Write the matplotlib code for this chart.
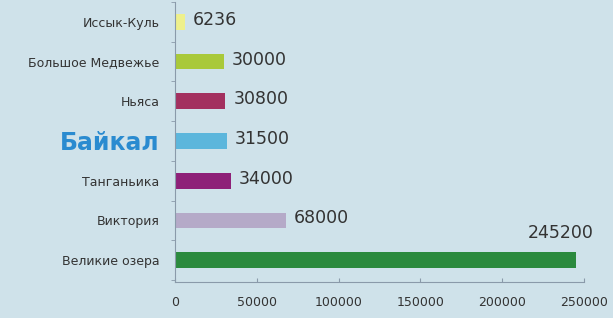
import matplotlib
matplotlib.use("Agg")
import matplotlib.pyplot as plt
from matplotlib.ticker import FixedLocator

lakes = ["Великие озера", "Виктория", "Танганьика", "Байкал", "Ньяса", "Большое Медвежье", "Иссык-Куль"]
values = [245200, 68000, 34000, 31500, 30800, 30000, 6236]
colors = ["#2b8a3e", "#b5aac8", "#8e2078", "#5cb6dc", "#a3305f", "#a9c93a", "#eef08c"]
xticks = [0, 50000, 100000, 150000, 200000, 250000]

bg = "#cfe2ea"
fig = plt.figure(figsize=(6.13, 3.18), dpi=100, facecolor=bg)
ax = fig.add_axes([0.2855, 0.113, 0.667, 0.881], facecolor=bg)

y = list(range(len(lakes)))
ax.barh(y, values, height=0.4, color=colors)
ax.set_xlim(0, 250000)
ax.set_ylim(-0.55, len(lakes) - 0.5)

for i, v in enumerate(values):
    if v == max(values):
        ax.annotate(str(v), (v, i), xytext=(-15, 18), textcoords="offset pixels",
                    ha="center", va="bottom", fontsize=12.5, color="#333333")
    else:
        ax.annotate(str(v), (v, i), xytext=(8, 2), textcoords="offset pixels",
                    ha="left", va="center", fontsize=12.5, color="#333333")

ax.set_yticks(y)
ax.set_yticklabels(lakes, fontsize=9, color="#333333")
for lbl in ax.get_yticklabels():
    if lbl.get_text() == "Байкал":
        lbl.set_fontsize(17)
        lbl.set_fontweight("bold")
        lbl.set_color("#2a8bd0")
ax.tick_params(axis="y", length=0, pad=11)
ax.yaxis.set_minor_locator(FixedLocator([i - 0.5 for i in range(len(lakes) + 1)]))
ax.tick_params(axis="y", which="minor", length=3, color="#8a9aaa", direction="out")

ax.set_xticks(xticks)
ax.set_xticklabels([str(t) for t in xticks], fontsize=9, color="#333333")
ax.tick_params(axis="x", length=3, color="#8a9aaa", direction="in", pad=10)

for s in ["top", "right"]:
    ax.spines[s].set_visible(False)
for s in ["left", "bottom"]:
    ax.spines[s].set_color("#8a9aaa")
    ax.spines[s].set_linewidth(0.8)

fig.savefig("out.png", dpi=100, facecolor=bg)
